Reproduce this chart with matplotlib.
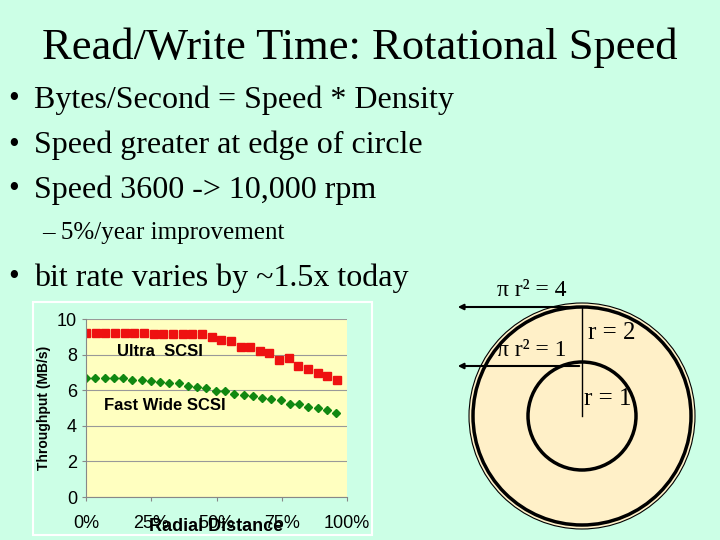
import matplotlib
matplotlib.use('Agg')
import matplotlib.pyplot as plt
from matplotlib.patches import Circle, Rectangle
import numpy as np

# data
ultra = [9.2, 9.2, 9.2, 9.2, 9.2, 9.2, 9.2, 9.15, 9.15, 9.15, 9.15, 9.15, 9.15,
         9.0, 8.8, 8.75, 8.4, 8.4, 8.2, 8.1, 7.7, 7.8, 7.35, 7.2, 6.95, 6.8, 6.6]
fast_wide = [6.7, 6.7, 6.7, 6.7, 6.7, 6.6, 6.6, 6.5, 6.45, 6.4, 6.4, 6.25, 6.2,
             6.15, 5.95, 5.95, 5.8, 5.75, 5.7, 5.55, 5.5, 5.45, 5.25, 5.2, 5.05,
             5.0, 4.9, 4.7]
x_ticks = [0, 25, 50, 75, 100]
y_ticks = [0, 2, 4, 6, 8, 10]
bullets = ['Bytes/Second = Speed * Density',
           'Speed greater at edge of circle',
           'Speed 3600 -> 10,000 rpm']

W, H = 720, 540
bg = '#ccffe6'
serif = 'Liberation Serif'
sans = 'Liberation Sans'
fig = plt.figure(figsize=(W / 100, H / 100), dpi=100, facecolor=bg)
ax = fig.add_axes([0, 0, 1, 1])
ax.set_xlim(0, W)
ax.set_ylim(H, 0)
ax.set_aspect('equal')
ax.axis('off')

ax.text(360, 48, 'Read/Write Time: Rotational Speed', fontsize=32, family=serif,
        ha='center', va='center')
for i, b in enumerate(bullets):
    y = 100 + i * 45
    ax.text(8, y, '•', fontsize=22, family=serif, va='center')
    ax.text(34, y, b, fontsize=23, family=serif, va='center')
ax.text(42, 233, '– 5%/year improvement', fontsize=18, family=serif, va='center')
ax.text(8, 278, '•', fontsize=22, family=serif, va='center')
ax.text(34, 278, 'bit rate varies by ~1.5x today', fontsize=23, family=serif, va='center')

# disk diagram
cx, cy = 582, 416
ax.add_patch(Circle((cx, cy), 113, fc='#fff0c8', ec='black', lw=0.8))
ax.add_patch(Circle((cx, cy), 109, fc='none', ec='black', lw=2.5))
ax.add_patch(Circle((cx, cy), 54, fc='none', ec='black', lw=2.5))
ax.plot([cx, cx], [cy - 109, cy], color='black', lw=1)
for yy in (cy - 109, cy - 50):
    ax.annotate('', xy=(455, yy), xytext=(cx, yy),
                arrowprops=dict(arrowstyle='-|>', color='black', lw=1.5, mutation_scale=8))
ax.text(497, 290, '\u03c0 r\u00b2 = 4', fontsize=17, family=serif, va='center')
ax.text(497, 350, '\u03c0 r\u00b2 = 1', fontsize=17, family=serif, va='center')
ax.text(588, 333, 'r = 2', fontsize=18, family=serif, va='center')
ax.text(584, 399, 'r = 1', fontsize=18, family=serif, va='center')

# chart panel
ax.add_patch(Rectangle((33, 302), 339, 233, fc=bg, ec='white', lw=1.5))
cax = fig.add_axes([86 / W, 1 - 497 / H, (347 - 86) / W, (497 - 319) / H])
cax.set_facecolor('#ffffc0')
xu = np.arange(len(ultra)) * 3.7
xf = np.arange(len(fast_wide)) * 3.55
cax.plot(xu, ultra, 's', color='#ee1111', ms=6, ls='none')
cax.plot(xf, fast_wide, 'D', color='#118811', ms=4.5, ls='none')
cax.set_xlim(0, 100)
cax.set_ylim(0, 10)
cax.set_xticks(x_ticks)
cax.set_xticklabels([f'{t}%' for t in x_ticks])
cax.set_yticks(y_ticks)
cax.grid(axis='y', color='#999999', lw=0.8)
for s in ['top', 'right']:
    cax.spines[s].set_visible(False)
for s in ['left', 'bottom']:
    cax.spines[s].set_color('#888888')
cax.tick_params(labelsize=13, length=3, colors='#888888', labelcolor='black')
cax.tick_params(axis='x', pad=10)
for lab in cax.get_xticklabels() + cax.get_yticklabels():
    lab.set_family(sans)
cax.set_ylabel('Throughput (MB/s)', fontsize=10, fontweight='bold', family=sans)
cax.text(12, 7.9, 'Ultra  SCSI', fontsize=12, fontweight='bold', family=sans)
cax.text(7, 4.9, 'Fast Wide SCSI', fontsize=12, fontweight='bold', family=sans)
cax.text(50, -1.2, 'Radial Distance', fontsize=13, fontweight='bold', family=sans,
         ha='center', va='top')

fig.savefig('out.png', dpi=100, facecolor=bg)
